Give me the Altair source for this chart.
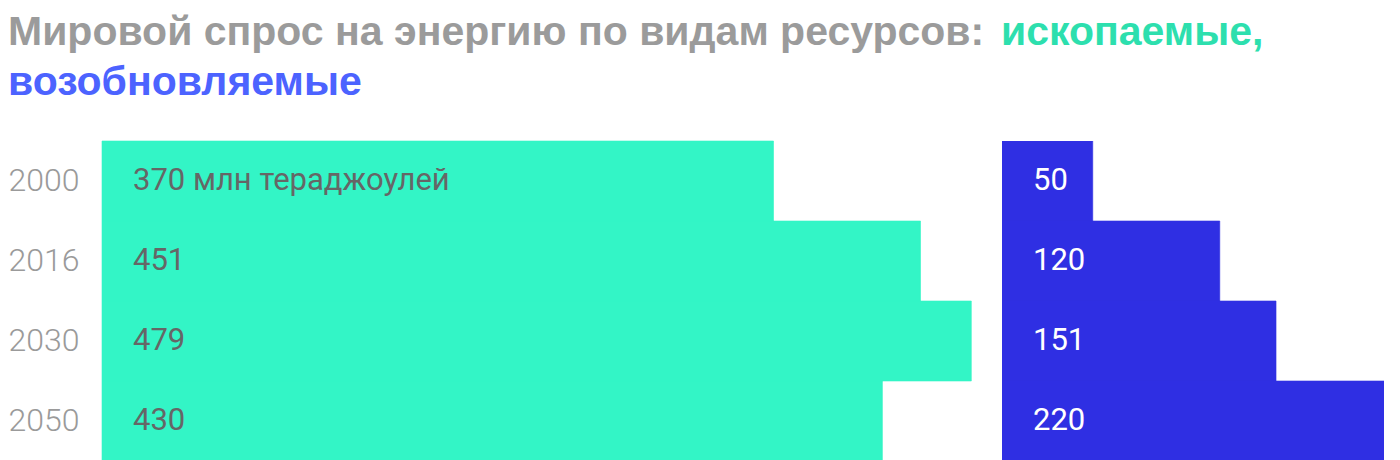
import altair as alt
import pandas as pd

years = ["2000", "2016", "2030", "2050"]
fossil = [370, 451, 479, 430]
renew = [50, 120, 151, 220]
fossil_labels = ["370 млн тераджоулей", "451", "479", "430"]
renew_labels = ["50", "120", "151", "220"]
title_gray = "Мировой спрос на энергию по видам ресурсов:"
title_green = "ископаемые,"
title_blue = "возобновляемые"

GREEN_BAR = "#33f5c6"
BLUE_BAR = "#2f2fe3"
GRAY_TITLE = "#9b9b9b"
GREEN_TITLE = "#2ddfae"
BLUE_TITLE = "#4c63ff"
FONT = "Roboto"
TFONT = "Liberation Sans"

df_f = pd.DataFrame({"year": years, "value": fossil, "label": fossil_labels})
df_r = pd.DataFrame({"year": years, "value": renew, "label": renew_labels})

yenc = alt.Y("year:N", sort=years,
             scale=alt.Scale(paddingInner=0, paddingOuter=0))

# Title panel (x offsets relative to the plot origin of the bar panel)
def title_text(txt, color, x, y):
    return alt.Chart(pd.DataFrame({"t": [txt]})).mark_text(
        align="left", baseline="alphabetic", font=TFONT, fontSize=41,
        fontWeight="bold", color=color
    ).encode(x=alt.value(x), y=alt.value(y), text="t:N")

title_panel = alt.layer(
    title_text(title_gray, GRAY_TITLE, -94, 37),
    title_text(title_green, GREEN_TITLE, 899, 37),
    title_text(title_blue, BLUE_TITLE, -94, 87),
).properties(width=1280, height=110)

# Fossil panel
f_bars = alt.Chart(df_f).mark_bar(color=GREEN_BAR, size=80, stroke=GREEN_BAR,
                                  strokeWidth=0.6).encode(
    x=alt.X("value:Q", scale=alt.Scale(domain=[0, 490.4], nice=False), axis=None),
    y=yenc.axis(title=None, domain=False, ticks=False, tickSize=0,
                labelAlign="left", labelPadding=94, labelFont=FONT,
                labelFontSize=32, labelFontWeight=300, labelColor="#9a9a9a"),
)
f_text = alt.Chart(df_f).mark_text(
    align="left", baseline="middle", dx=31, font=FONT, fontSize=31,
    color="#666666"
).encode(x=alt.value(0), y=alt.Y("year:N", sort=years), text="label:N")
fossil_panel = alt.layer(f_bars, f_text).properties(width=890, height=320)

# Renewable panel
r_bars = alt.Chart(df_r).mark_bar(color=BLUE_BAR, size=80, stroke=BLUE_BAR,
                                  strokeWidth=0.6, clip=True).encode(
    x=alt.X("value:Q", scale=alt.Scale(domain=[0, 210.5], nice=False), axis=None),
    y=yenc.axis(None),
)
r_text = alt.Chart(df_r).mark_text(
    align="left", baseline="middle", dx=31, font=FONT, fontSize=31,
    color="#ffffff"
).encode(x=alt.value(0), y=alt.Y("year:N", sort=years), text="label:N")
renew_panel = alt.layer(r_bars, r_text).properties(width=382, height=320)

bottom = alt.hconcat(fossil_panel, renew_panel, spacing=10)

chart = alt.vconcat(title_panel, bottom, spacing=22).properties(
    padding=0, background="white"
).configure_view(stroke=None).configure_concat(spacing=10)

chart.save("out.html", embed_options={"renderer": "svg", "actions": False})
